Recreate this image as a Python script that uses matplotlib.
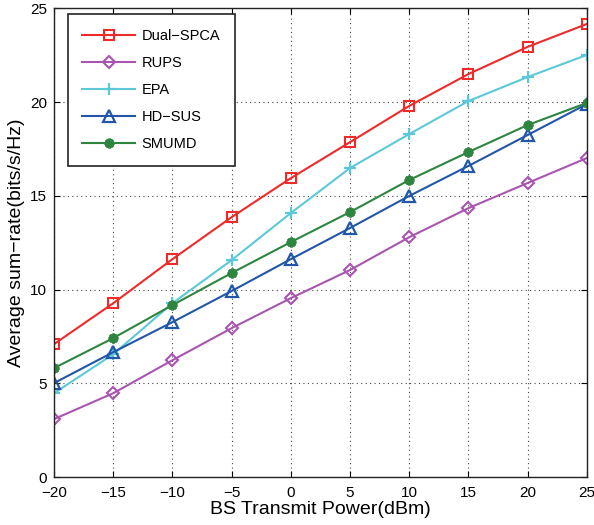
import numpy as np
import matplotlib
matplotlib.use("Agg")
import matplotlib.pyplot as plt

plt.rcParams['font.family'] = ['Liberation Sans', 'DejaVu Sans']

power = [-20, -15, -10, -5, 0, 5, 10, 15, 20, 25]
dual_spca = [7.1, 9.28, 11.63, 13.87, 15.95, 17.87, 19.8, 21.5, 22.95, 24.17]
rups = [3.1, 4.48, 6.24, 7.95, 9.55, 11.05, 12.8, 14.35, 15.69, 17.02]
epa = [4.48, 6.56, 9.28, 11.58, 14.09, 16.49, 18.3, 20.06, 21.34, 22.52]
hd_sus = [5.02, 6.67, 8.27, 9.93, 11.63, 13.29, 15.0, 16.6, 18.25, 19.9]
smumd = [5.82, 7.42, 9.18, 10.89, 12.54, 14.14, 15.85, 17.34, 18.78, 19.96]

fig = plt.figure(figsize=(5.94, 5.25), dpi=100)
ax = fig.add_axes([0.091, 0.091, 0.897, 0.893])

ax.plot(power, dual_spca, color='#ee2a2a', marker='s', ms=6.5, mfc='none', mew=1.5, lw=1.5, label='Dual\u2212SPCA')
ax.plot(power, rups, color='#a855b0', marker='D', ms=6, mfc='none', mew=1.5, lw=1.5, label='RUPS')
ax.plot(power, epa, color='#5cc8d8', marker='+', ms=9, mew=1.6, lw=1.5, label='EPA')
ax.plot(power, hd_sus, color='#2156a8', marker='^', ms=8.5, mfc='none', mew=1.6, lw=1.5, label='HD\u2212SUS')
ax.plot(power, smumd, color='#2e8540', marker=(8, 2, 0), ms=7, mew=2.0, lw=1.5, label='SMUMD')

ax.set_xlim(-20, 25)
ax.set_ylim(0, 25)
ax.set_xticks(power)
ax.set_yticks([0, 5, 10, 15, 20, 25])
ax.grid(True, color='#444444', linestyle=(0, (1, 3)), linewidth=0.8)
ax.tick_params(direction='in', top=True, right=True, labelsize=11, length=4)
ax.tick_params(axis='y', pad=5)
ax.tick_params(axis='x', pad=6)
for s in ax.spines.values():
    s.set_linewidth(1.0)
    s.set_color('#222222')

ax.set_xlabel('BS Transmit Power(dBm)', fontsize=14, labelpad=1)
ax.set_ylabel('Average sum\u2212rate(bits/s/Hz)', fontsize=14, labelpad=4)

leg = ax.legend(loc='upper left', bbox_to_anchor=(0.026, 0.988), borderaxespad=0,
                fontsize=10.5, fancybox=False, edgecolor='#222222', framealpha=1,
                handlelength=3.6, handletextpad=0.45, labelspacing=0.9,
                borderpad=1.0, numpoints=1)
leg.get_frame().set_linewidth(1.2)

fig.savefig('out.png', dpi=100)
